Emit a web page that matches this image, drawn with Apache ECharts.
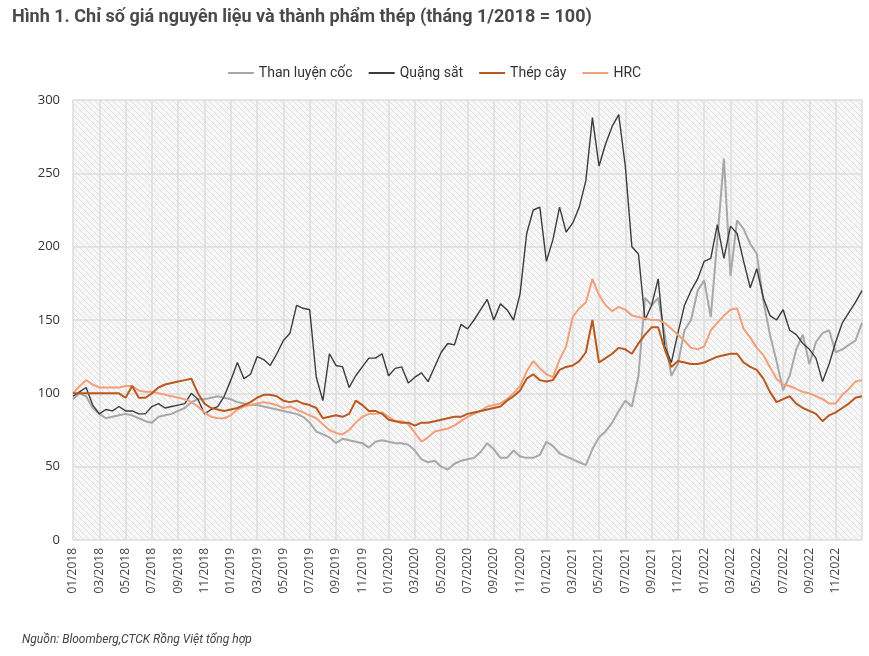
<!DOCTYPE html>
<html><head><meta charset="utf-8">
<script src="https://cdn.jsdelivr.net/npm/echarts@6/dist/echarts.min.js"></script>
<style>html,body{margin:0;padding:0;background:#fff}#c{width:869px;height:656px}</style>
</head><body><div id="c"></div>
<script>
// time grid: months since 01/2018, half-month steps (0 .. 60)
const STEP = 0.5;
const seriesNames = ['Than luyện cốc', 'Quặng sắt', 'Thép cây', 'HRC'];
const yTicks = [0, 50, 100, 150, 200, 250, 300];

const coal = [
 96,100,98,90,86,83,84,85,86,85, 83,81,80,84,85,86,88,90,94,96,
 96,97,98,97,96,94,93,92,92,91, 90,89,88,87,86,84,80,74,72,70,
 66,69,68,67,66,63,67,68,67,66, 66,65,61,55,53,54,50,48,52,54,
 55,56,60,66,62,56,56,61,57,56, 56,58,67,64,59,57,55,53,51,62,
 70,74,80,88,95,91,112,165,160,165, 140,112,120,143,150,170,177,152,205,260,
 180,218,212,202,195,163,140,122,102,112, 130,140,120,135,141,143,128,130,133,136,
 148];
const ore = [
 98,101,104,92,86,89,88,91,88,88, 86,86,91,93,90,91,92,93,100,96,
 86,89,91,98,109,121,110,113,125,123, 119,127,136,141,160,158,157,111,95,127,
 119,118,104,112,118,124,124,127,112,117, 118,107,111,114,108,118,128,134,133,147,
 144,150,157,164,150,161,157,150,168,209, 225,227,190,205,227,210,216,227,245,288,
 255,270,282,290,255,200,195,150,160,178, 132,121,141,160,170,178,190,192,215,192,
 214,209,190,172,185,165,153,150,157,143, 140,134,130,124,108,120,135,148,155,162,
 170];
const rebar = [
 100,100,100,100,100,100,100,100,97,105, 97,97,100,104,106,107,108,109,110,100,
 93,90,89,88,89,90,92,94,97,99, 99,98,95,94,95,93,92,90,83,84,
 85,84,86,95,92,88,88,86,82,81, 80,80,78,80,80,81,82,83,84,84,
 86,87,88,89,90,91,95,98,102,110, 113,109,108,109,116,118,119,122,128,150,
 121,124,127,131,130,127,134,140,145,145, 130,118,122,121,120,120,121,123,125,126,
 127,127,121,118,116,110,101,94,96,98, 93,90,88,86,81,85,87,90,93,97,
 98];
const hrc = [
 100,105,109,106,104,104,104,104,105,105, 102,101,101,100,99,98,97,96,94,91,
 87,84,83,83,85,89,91,92,93,94, 93,92,90,91,89,87,85,83,79,75,
 73,72,75,80,84,86,86,87,84,81, 81,79,73,67,70,74,75,76,78,81,
 84,86,88,91,92,93,96,100,105,115, 122,117,113,111,123,132,152,158,162,178,
 167,160,156,159,157,153,152,151,150,150, 148,144,140,136,131,130,132,143,148,153,
 157,158,144,138,131,126,118,110,106,105, 103,101,100,98,96,93,93,99,103,108,
 109];

function pairs(arr){ return arr.map((v,i)=>[i*STEP, v]); }

// hatch pattern for the plot background
const pc = document.createElement('canvas');
pc.width = 6; pc.height = 6;
const g = pc.getContext('2d');
g.fillStyle = '#f7f7f7'; g.fillRect(0,0,6,6);
g.strokeStyle = '#dedede'; g.lineWidth = 1;
g.beginPath(); g.moveTo(0,0); g.lineTo(6,6); g.moveTo(-3,3); g.lineTo(3,9); g.moveTo(3,-3); g.lineTo(9,3); g.stroke();

const colors = ['#a8a8a8', '#3c3c3c', '#b9581f', '#f2a07c'];
const widths = [2, 1.4, 2, 2];
const data = [coal, ore, rebar, hrc];

const chart = echarts.init(document.getElementById('c'));
chart.setOption({
  animation: false,
  title: {
    text: 'Hình 1. Chỉ số giá nguyên liệu và thành phẩm thép (tháng 1/2018 = 100)',
    left: 7, top: 3,
    textStyle: {fontFamily: 'Roboto', fontWeight: 'bold', fontSize: 18, color: '#4a4a4a'}
  },
  legend: {
    top: 61, left: 'center', itemWidth: 26, itemHeight: 2, itemGap: 16,
    icon: 'rect',
    textStyle: {fontFamily: 'Roboto', fontSize: 14, color: '#333'},
    data: seriesNames
  },
  grid: {left: 73, right: 7, top: 100, bottom: 116, show: true, borderWidth: 0,
    backgroundColor: {image: pc, repeat: 'repeat'}},
  xAxis: {
    type: 'value', min: 0, max: 60, interval: 2,
    axisLine: {show: false}, axisTick: {show: false},
    splitLine: {show: true, lineStyle: {color: '#dcdcdc', width: 1.5}},
    axisLabel: {
      rotate: 90, margin: 8, fontFamily: 'Open Sans', fontSize: 12, color: '#444',
      formatter: function(v){
        if (v >= 60) return '';
        const m = (v % 12) + 1, y = 2018 + Math.floor(v / 12);
        return (m < 10 ? '0' + m : m) + '/' + y;
      }
    }
  },
  yAxis: {
    type: 'value', min: yTicks[0], max: yTicks[yTicks.length-1], interval: 50,
    axisLine: {show: false}, axisTick: {show: false},
    splitLine: {show: true, lineStyle: {color: '#dcdcdc', width: 1.5}},
    axisLabel: {margin: 13, fontFamily: 'Open Sans', fontSize: 13, color: '#333'}
  },
  series: seriesNames.map((n, i) => ({
    name: n, type: 'line', data: pairs(data[i]), showSymbol: false, symbol: 'none',
    lineStyle: {color: colors[i], width: widths[i]}, itemStyle: {color: colors[i]},
    z: [2, 3, 4, 3][i]
  })),
  graphic: [{
    type: 'text', left: 22, top: 634,
    style: {text: 'Nguồn: Bloomberg,CTCK Rồng Việt tổng hợp', fontFamily: 'Roboto',
      fontStyle: 'italic', fontSize: 12, fill: '#444'}
  }]
});
</script></body></html>
